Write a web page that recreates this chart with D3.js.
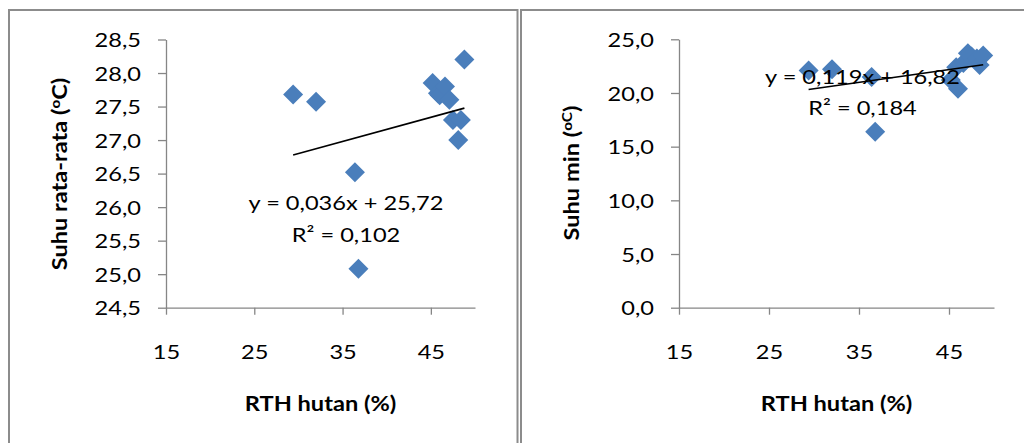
<!DOCTYPE html>
<html><head><meta charset="utf-8">
<script src="https://cdn.jsdelivr.net/npm/d3@7"></script>
<style>html,body{margin:0;padding:0;background:#fff;overflow:hidden}</style>
</head><body>
<svg id="c" width="1024" height="443"></svg>
<script>
// ---- data ----
const rthHutan     = [29.4, 32.0, 36.4, 36.8, 45.2, 45.8, 46.0, 46.6, 47.1, 47.5, 48.1, 48.4, 48.8];
const suhuRataRata = [27.68, 27.57, 26.52, 25.08, 27.85, 27.70, 27.67, 27.80, 27.60, 27.30, 27.00, 27.30, 28.20];
const suhuMin      = [22.1, 22.2, 21.5, 16.4, 21.2, 22.4, 20.4, 22.8, 23.7, 23.4, 23.2, 22.6, 23.5];
const xTicks       = [15, 25, 35, 45];
const xDomain      = [15, 50];
const yTicksLeft   = [24.5, 25.0, 25.5, 26.0, 26.5, 27.0, 27.5, 28.0, 28.5];
const yTicksRight  = [0, 5, 10, 15, 20, 25];
const trendLeft    = [0.036, 25.72, 0.102];   // slope, intercept, R²
const trendRight   = [0.119, 16.82, 0.184];
const xTitle       = "RTH hutan (%)";

// ---- style ----
const FONT = "Lato, 'Open Sans', sans-serif";
const FS = 20, SX = 1.18;
const AXIS = "#868686", BORDER = "#8c8c8c", MARK = "#4a7ebb";

const svg = d3.select("#c");
const comma = s => s.replace(".", ",");
const f1 = v => comma(d3.format(".1f")(v));

function addText(g, x, y, o = {}) {
  const t = g.append("text")
    .attr("transform", `translate(${x},${y})` + (o.rot ? ` rotate(${o.rot})` : "") + ` scale(${SX},1)`)
    .attr("text-anchor", o.anchor || "middle")
    .attr("font-family", FONT).attr("font-size", FS)
    .attr("font-weight", o.bold ? "bold" : "normal")
    .attr("fill", "#000");
  if (o.dy) t.attr("dy", o.dy);
  return t;
}

function panel(cfg) {
  const g = svg.append("g");
  g.append("rect").attr("x", cfg.bx).attr("y", 10).attr("width", cfg.bw).attr("height", 600)
    .attr("fill", "none").attr("stroke", BORDER).attr("stroke-width", 2);

  const x = d3.scaleLinear().domain(xDomain).range([cfg.x0, cfg.x1]);
  const y = d3.scaleLinear().domain(cfg.yDomain).range([cfg.yb, cfg.yt]);

  // y axis
  const ya = g.append("g").attr("transform", `translate(${cfg.x0},0)`)
    .call(d3.axisLeft(y).tickValues(cfg.yTicks).tickSize(8).tickSizeOuter(0).tickFormat(f1));
  ya.selectAll("text").attr("x", 0).attr("dy", "0.36em")
    .attr("transform", `translate(-25,0) scale(${SX},1)`)
    .attr("font-family", FONT).attr("font-size", FS).attr("fill", "#000");
  // x axis
  const xa = g.append("g").attr("transform", `translate(0,${cfg.yb})`)
    .call(d3.axisBottom(x).tickValues(xTicks).tickSize(7).tickSizeOuter(0).tickFormat(d => d));
  xa.selectAll("text").attr("y", 0).attr("dy", 0)
    .attr("transform", `translate(0,51.5) scale(${SX},1)`)
    .attr("font-family", FONT).attr("font-size", FS).attr("fill", "#000");
  g.selectAll(".domain, .tick line").attr("stroke", AXIS).attr("stroke-width", 1.3);

  // markers
  const sym = d3.symbol().type(d3.symbolSquare).size(200);
  g.append("g").selectAll("path").data(rthHutan.map((d, i) => [d, cfg.ys[i]])).join("path")
    .attr("d", sym)
    .attr("transform", d => `translate(${x(d[0])},${y(d[1])}) rotate(45)`)
    .attr("fill", MARK);

  // trend line
  const [m, b, r2] = cfg.trend;
  const ex = d3.extent(rthHutan);
  g.append("line")
    .attr("x1", x(ex[0])).attr("y1", y(m * ex[0] + b))
    .attr("x2", x(ex[1])).attr("y2", y(m * ex[1] + b))
    .attr("stroke", "#000").attr("stroke-width", 1.6);

  // equation
  addText(g, cfg.eqx, cfg.eqy).text(`y = ${comma(String(m))}x + ${comma(String(b))}`);
  addText(g, cfg.eqx, cfg.eqy + 31.8).text(`R² = ${comma(String(r2))}`);

  // titles
  addText(g, (cfg.x0 + cfg.x1) / 2, 410.5, { bold: true }).text(xTitle);
  const yt = addText(g, cfg.ytx, cfg.yty, { bold: true, rot: -90, dy: "0.36em" });
  yt.append("tspan").text(cfg.yTitle[0]);
  yt.append("tspan").attr("font-size", FS * 0.65).attr("dy", -FS * 0.38).text(cfg.yTitle[1]);
  yt.append("tspan").attr("dy", FS * 0.38).text(cfg.yTitle[2]);
}

panel({
  bx: 9, bw: 508.5, x0: 166, x1: 475, yt: 39.5, yb: 307.7,
  yDomain: [24.5, 28.5], yTicks: yTicksLeft, ys: suhuRataRata, trend: trendLeft,
  eqx: 346, eqy: 210, ytx: 60, yty: 174,
  yTitle: ["Suhu rata-rata (", "o", "C)"]
});
panel({
  bx: 521, bw: 600, x0: 679, x1: 994, yt: 39.3, yb: 307.7,
  yDomain: [0, 25], yTicks: yTicksRight, ys: suhuMin, trend: trendRight,
  eqx: 862.5, eqy: 83.5, ytx: 572, yty: 173,
  yTitle: ["Suhu min (", "oC", ")"]
});
</script>
</body></html>
